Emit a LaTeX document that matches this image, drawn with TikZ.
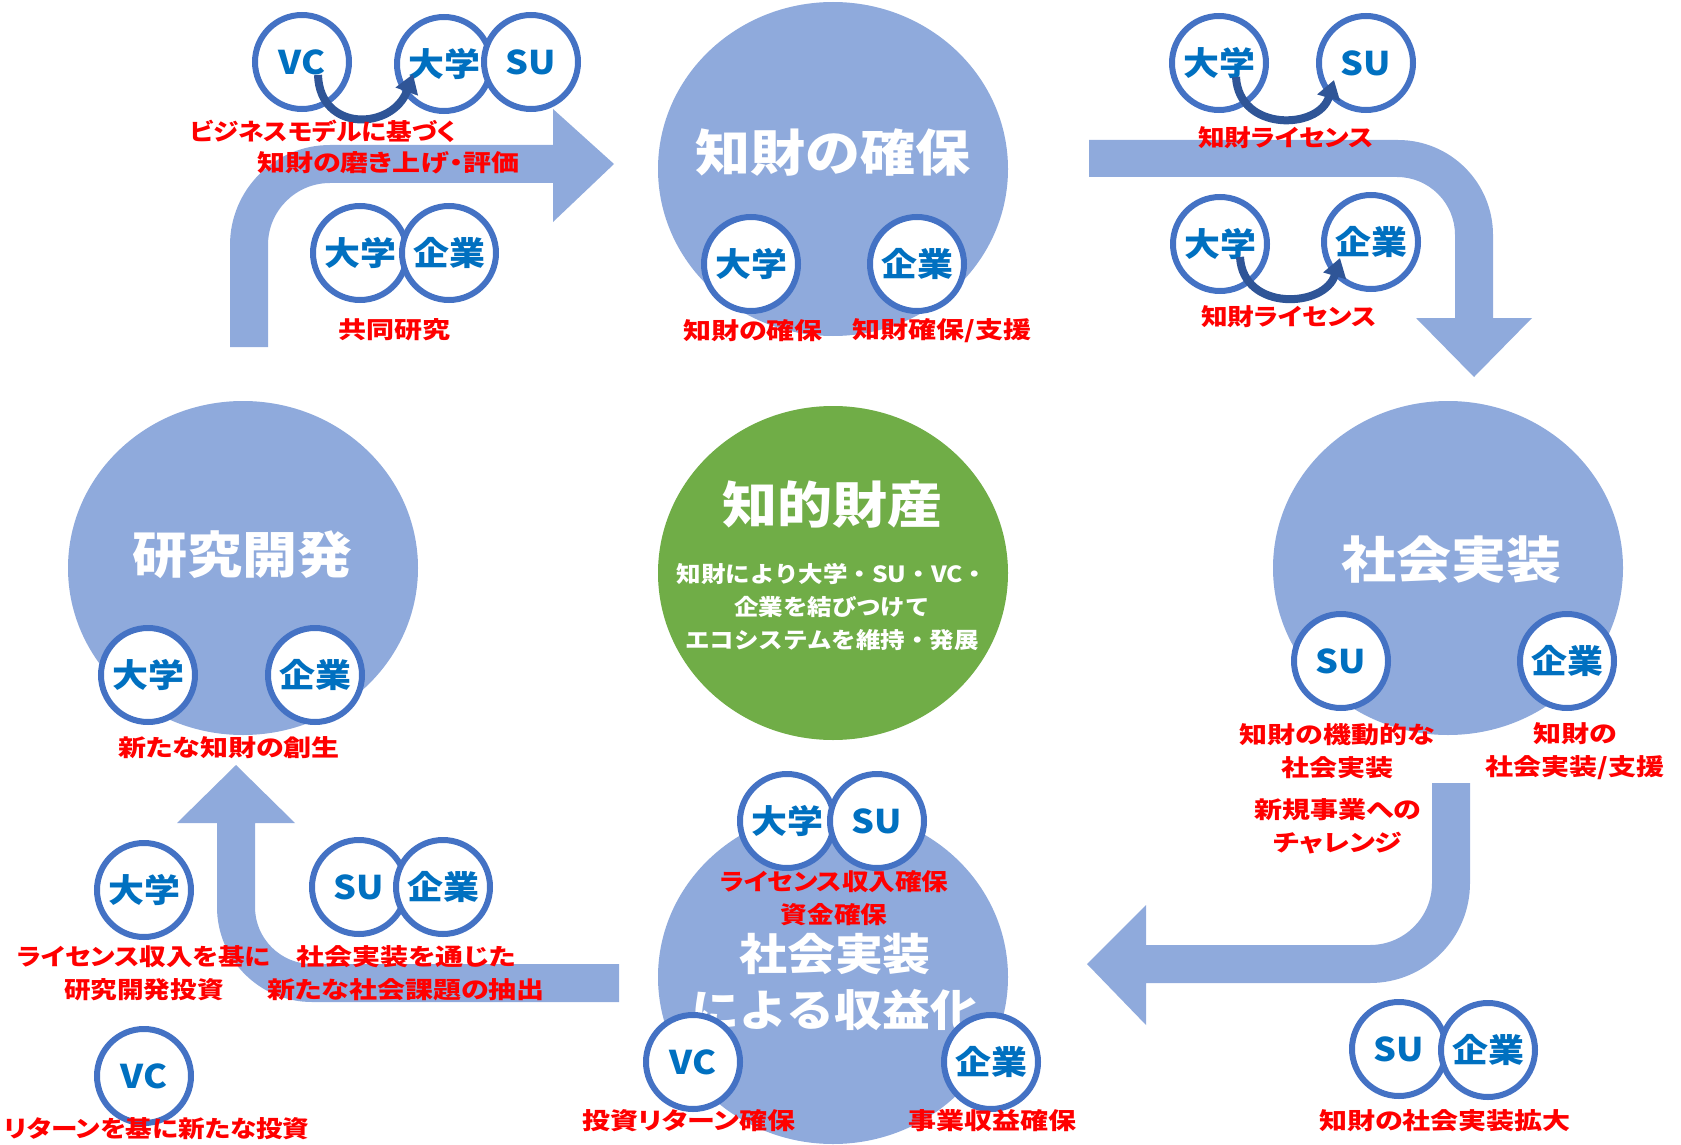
\documentclass[tikz,border=0pt]{standalone}
\usepackage{fontspec}
\setmainfont{Noto Sans CJK JP}[FakeStretch=1.1]
\newfontfamily\labfont{Noto Sans CJK JP}[FakeStretch=1.2,RawFeature=+palt]
\newfontfamily\labfontn{Noto Sans CJK JP}[FakeStretch=1.1,RawFeature=+palt]
\newfontfamily\labfontm{Noto Sans CJK JP}[FakeStretch=1.14,RawFeature=+palt]
\usetikzlibrary{arrows.meta,shapes.geometric}
\definecolor{band}{HTML}{8FAADC}
\definecolor{greenc}{HTML}{70AD47}
\definecolor{ring}{HTML}{4472C4}
\definecolor{ctext}{HTML}{0070C0}
\definecolor{redt}{HTML}{FF0000}
\definecolor{darr}{HTML}{2F5597}
\begin{document}
\begin{tikzpicture}[x=0.75pt,y=-0.75pt,
  bigc/.style={ellipse,fill=band,minimum width=262.5pt,minimum height=250.5pt,inner sep=0},
  greenbig/.style={ellipse,fill=greenc,minimum width=262.5pt,minimum height=250.5pt,inner sep=0},
  title/.style={text=white,font=\bfseries\fontsize{37.5}{42}\selectfont,align=center,inner sep=0},
  subtitle/.style={text=white,font=\bfseries\fontsize{16.7}{25}\selectfont,align=center,inner sep=0},
  actor/.style={circle,draw=ring,line width=4.5pt,fill=white,minimum size=70.5pt,inner sep=0,
    text=ctext,font=\bfseries\fontsize{24.5}{24.5}\selectfont},
  lab/.style={text=redt,font=\labfont\bfseries\fontsize{17.5}{24.75}\selectfont,align=center,inner sep=0},
  labn/.style={lab,font=\labfontn\bfseries\fontsize{17.5}{24.75}\selectfont},
  labm/.style={lab,font=\labfontm\bfseries\fontsize{17.5}{24.75}\selectfont},
  curvarrow/.style={draw=darr,line width=6pt,-{Triangle[length=14pt,width=17pt]}},
  bandfill/.style={fill=band}]
\useasboundingbox (0,0) rectangle (1681,1145);

% ---- big cycle arrows ----
\fill[bandfill] (230,347) -- (230,245) arc[start angle=180,end angle=270,radius=100]
  -- (553,145) -- (553,109) -- (614,164) -- (553,222) -- (553,183) -- (330,183)
  arc[start angle=270,end angle=180,radius=62] -- (268,347) -- cycle;
\fill[bandfill] (1089,140) -- (1398,140) arc[start angle=270,end angle=360,radius=95]
  -- (1493,318) -- (1532,318) -- (1474,377) -- (1416,318) -- (1455,318) -- (1455,235)
  arc[start angle=0,end angle=-90,radius=58] -- (1089,177) -- cycle;
\fill[bandfill] (1470,783) -- (1470,883) arc[start angle=0,end angle=90,radius=100]
  -- (1146,983) -- (1146,1025) -- (1087,964) -- (1146,905) -- (1146,945) -- (1370,945)
  arc[start angle=90,end angle=0,radius=62] -- (1432,783) -- cycle;
\fill[bandfill] (619,1002) -- (312,1002) arc[start angle=90,end angle=180,radius=95]
  -- (217,823) -- (177,823) -- (236,765) -- (295,823) -- (255,823) -- (255,907)
  arc[start angle=180,end angle=90,radius=57] -- (312,964) -- (619,964) -- cycle;

% ---- big circles ----
\node[bigc] (secure) at (833,169) {};
\node[bigc] (rnd) at (243,568) {};
\node[bigc] (impl) at (1448,568) {};
\node[bigc] (profit) at (833,977) {};
\node[greenbig] (ip) at (833,573) {};

\node[title] (tsecure) at (833,153) {知財の確保};
\node[title] (trnd) at (242,555) {研究開発};
\node[title] (timpl) at (1451,560) {社会実装};
\node[title,font=\bfseries\fontsize{32.7}{42}\selectfont] (tprofit) at (835,982) {社会実装\\による収益化};
\node[title] (tip) at (832,505) {知的財産};
\node[subtitle] (sip) at (832,607) {知財により大学・SU・VC・\\企業を結びつけて\\エコシステムを維持・発展};

% ---- actor circles ----
\node[actor] (vcA) at (302,62) {VC};
\node[actor] (daA) at (444,64) {大学};
\node[actor] (suA) at (531,62) {SU};
\node[actor] (daB) at (360,253) {大学};
\node[actor] (kiB) at (449,253) {企業};
\node[actor] (daC) at (751,264) {大学};
\node[actor] (kiC) at (917,264) {企業};
\node[actor] (daD) at (1219,63) {大学};
\node[actor] (suD) at (1366,63) {SU};
\node[actor] (daE) at (1220,244) {大学};
\node[actor] (kiE) at (1371,242) {企業};
\node[actor] (daF) at (148,675) {大学};
\node[actor] (kiF) at (315,675) {企業};
\node[actor] (suG) at (1341,661) {SU};
\node[actor] (kiG) at (1567,661) {企業};
\node[actor] (daH) at (787,821) {大学};
\node[actor] (suH) at (877,821) {SU};
\node[actor] (vcH) at (693,1062) {VC};
\node[actor] (kiH) at (991,1062) {企業};
\node[actor] (suI) at (1399,1049) {SU};
\node[actor] (kiI) at (1488,1050) {企業};
\node[actor] (daJ) at (144,890) {大学};
\node[actor] (suJ) at (359,887) {SU};
\node[actor] (kiJ) at (443,887) {企業};
\node[actor] (vcJ) at (144,1076) {VC};

% ---- curved arrows ----
\draw[curvarrow] ([shift={(16,13)}]vcA.center) .. controls +(2,58) and +(-20,56) .. ([shift={(-31,10)}]daA.center);
\draw[curvarrow] ([shift={(17,14)}]daD.center) .. controls +(3,55) and +(-15,50) .. ([shift={(-32,17)}]suD.center);
\draw[curvarrow] ([shift={(20,13)}]daE.center) .. controls +(3,55) and +(-15,50) .. ([shift={(-31,16)}]kiE.center);

% ---- labels ----
\node[labn] (l1) at (323,131) {ビジネスモデルに基づく};
\node[lab] (l2) at (388,163) {知財の磨き上げ・評価};
\node[lab] (l3) at (394,330) {共同研究};
\node[lab] (l4) at (753,331) {知財の確保};
\node[lab] (l5) at (942,331) {知財確保/支援};
\node[labm] (l6) at (1286,138) {知財ライセンス};
\node[labm] (l7) at (1289,317) {知財ライセンス};
\node[lab] (l8) at (229,748) {新たな知財の創生};
\node[lab] (l9) at (1337,751) {知財の機動的な\\社会実装};
\node[lab] (l10) at (1575,751) {知財の\\社会実装/支援};
\node[lab] (l11) at (1338,826) {新規事業への\\チャレンジ};
\node[labm] (l12) at (834,898) {ライセンス収入確保\\資金確保};
\node[lab] (l13) at (689,1121) {投資リターン確保};
\node[lab] (l14) at (992,1121) {事業収益確保};
\node[lab] (l15) at (1445,1121) {知財の社会実装拡大};
\node[labm] (l16) at (144,973) {ライセンス収入を基に\\研究開発投資};
\node[lab] (l17) at (406,973) {社会実装を通じた\\新たな社会課題の抽出};
\node[labm] (l18) at (157,1129) {リターンを基に新たな投資};
\end{tikzpicture}
\end{document}
